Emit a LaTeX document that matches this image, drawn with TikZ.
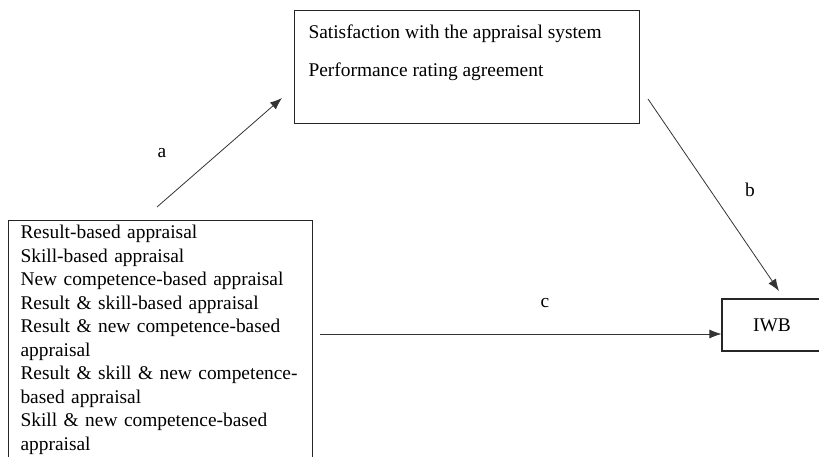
\documentclass[tikz,border=0pt]{standalone}
\usepackage{fontspec}
\setmainfont{Liberation Serif}
\usetikzlibrary{arrows.meta, calc}

\begin{document}
\begin{tikzpicture}[x=1pt, y=-1pt, line width=0.8pt,
    box/.style={draw=black!85, line width=1.1pt, align=left, font=\fontsize{19.4}{23.5}\selectfont},
    lbl/.style={font=\fontsize{19.4}{23.5}\selectfont},
    arr/.style={draw=black!80, -{Latex[length=12pt, width=9pt]}}]
            \useasboundingbox (0,0) rectangle (819,457);
            \node[box, anchor=north west, inner xsep=14pt, inner ysep=14pt] (sat) at (294,10)
                {\parbox[t][85pt][t]{317pt}{Satisfaction with the appraisal system\\[14.5pt]Performance rating agreement}};
            \node[box, anchor=north west, text width=280pt, inner xsep=12pt, inner ysep=4.5pt] (appr) at (8,220)
                {Result-based appraisal\\Skill-based appraisal\\New competence-based appraisal\\Result \& skill-based appraisal\\Result \& new competence-based\\appraisal\\Result \& skill \& new competence-\\based appraisal\\Skill \& new competence-based\\appraisal};
            \node[box, align=center, minimum width=100pt, minimum height=52pt] (iwb) at (772,325) {IWB};
            \coordinate (a1) at (157,207); \coordinate (a2) at (282,98);
            \coordinate (b1) at (648,99); \coordinate (b2) at (779,291);
            \coordinate (c1) at (320,334);
            \draw[arr] (a1) -- (a2);
            \draw[arr] (b1) -- (b2);
            \draw[arr] (c1) -- (c1 -| iwb.west);
            \node[lbl] (la) at (162,153) {a};
            \node[lbl] (lb) at (750,190) {b};
            \node[lbl] (lc) at (545,303) {c};
        \end{tikzpicture}
\end{document}
